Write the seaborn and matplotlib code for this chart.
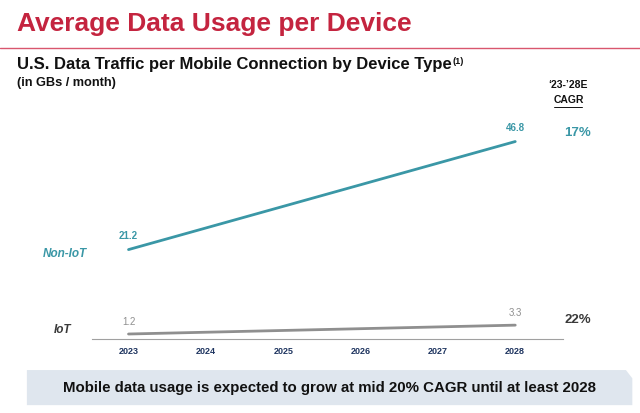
import pandas as pd
import numpy as np
import matplotlib.pyplot as plt
import seaborn as sns
from matplotlib.patches import Polygon
from matplotlib.lines import Line2D

# data
tick_years = [2023, 2024, 2025, 2026, 2027, 2028]
point_years = [2023, 2028]
non_iot = [21.2, 46.8]
iot = [1.2, 3.3]
series_names = ["Non-IoT", "IoT"]
cagr = ["17%", "22%"]

teal = "#3a97a6"
grey = "#8f8f8f"
dark = "#3a3a3a"
red = "#c4243f"
navy = "#1f3560"

sns.set_theme(style="white")
plt.rcParams["font.family"] = ["Liberation Sans", "DejaVu Sans"]

df = pd.DataFrame({
    "year": point_years * 2,
    "value": non_iot + iot,
    "series": [series_names[0]] * 2 + [series_names[1]] * 2,
})

fig = plt.figure(figsize=(6.4, 4.13), dpi=100)
ax = fig.add_axes([0.144, 0.179, 0.736, 0.511])

sns.lineplot(data=df, x="year", y="value", hue="series",
             palette={"Non-IoT": teal, "IoT": grey}, linewidth=2.0,
             legend=False, ax=ax)

ax.set_xlim(2022.53, 2028.62)
ax.set_ylim(0, 50)
ax.set_xticks(tick_years)
ax.set_xticklabels([str(y) for y in tick_years], fontsize=6.5,
                   fontweight="bold", color=navy)
ax.tick_params(axis="x", length=0, pad=6)
ax.set_yticks([])
ax.set_xlabel("")
ax.set_ylabel("")
for s in ["top", "right", "left"]:
    ax.spines[s].set_visible(False)
ax.spines["bottom"].set_color("#a0a0a0")
ax.spines["bottom"].set_linewidth(0.8)

# value labels
for x, v in zip(point_years, non_iot):
    ax.annotate(f"{v}", (x, v), xytext=(0, 6), textcoords="offset points",
                ha="center", va="bottom", fontsize=7, fontweight="bold", color=teal)
for x, v in zip(point_years, iot):
    ax.annotate(f"{v}", (x, v), xytext=(0, 5), textcoords="offset points",
                ha="center", va="bottom", fontsize=7, color=grey)

# series names at left
ax.annotate(series_names[0], (point_years[0], non_iot[0]), xytext=(-62, -3),
            textcoords="offset points", ha="left", va="center", fontsize=8.5,
            fontweight="bold", fontstyle="italic", color=teal)
ax.annotate(series_names[1], (point_years[0], iot[0]), xytext=(-54, 3),
            textcoords="offset points", ha="left", va="center", fontsize=8.5,
            fontweight="bold", fontstyle="italic", color=dark)

# CAGR column
fig.text(0.888, 0.794, "\u201823-\u201928E", ha="center", va="center",
         fontsize=7.5, fontweight="bold", color="#111111")
fig.text(0.888, 0.758, "CAGR", ha="center", va="center",
         fontsize=7.5, fontweight="bold", color="#111111")
fig.add_artist(Line2D([0.866, 0.910], [0.741, 0.741], color="#111111", lw=0.7))
fig.text(0.903, 0.678, cagr[0], ha="center", va="center",
         fontsize=9.5, fontweight="bold", color=teal)
fig.text(0.903, 0.225, cagr[1], ha="center", va="center",
         fontsize=9.5, fontweight="bold", color=dark)

# headings
fig.text(0.026, 0.943, "Average Data Usage per Device", ha="left", va="center",
         fontsize=19, fontweight="bold", color=red)
fig.add_artist(Line2D([0, 1], [0.884, 0.884], color="#d9566e", lw=1.0))
sub = fig.text(0.026, 0.845, "U.S. Data Traffic per Mobile Connection by Device Type",
               ha="left", va="center", fontsize=12, fontweight="bold", color="#111111")
# superscript footnote marker right after the subtitle
fig.axes[0].annotate("(1)", xy=(1, 1), xycoords=sub, xytext=(1, 0),
                     textcoords="offset points", ha="left", va="top",
                     fontsize=6.5, fontweight="bold", color="#111111",
                     annotation_clip=False)
fig.text(0.026, 0.798, "(in GBs / month)", ha="left", va="center",
         fontsize=9.2, fontweight="bold", color="#111111")

# takeaway box
box = Polygon([[0.042, 0.104], [0.978, 0.104], [0.988, 0.084],
               [0.988, 0.019], [0.042, 0.019]], closed=True,
              facecolor="#dfe6ee", edgecolor="none", transform=fig.transFigure)
fig.add_artist(box)
fig.text(0.515, 0.061, "Mobile data usage is expected to grow at mid 20% CAGR until at least 2028",
         ha="center", va="center", fontsize=10.8, fontweight="bold", color="#111111")

fig.savefig("out.png", dpi=100)
